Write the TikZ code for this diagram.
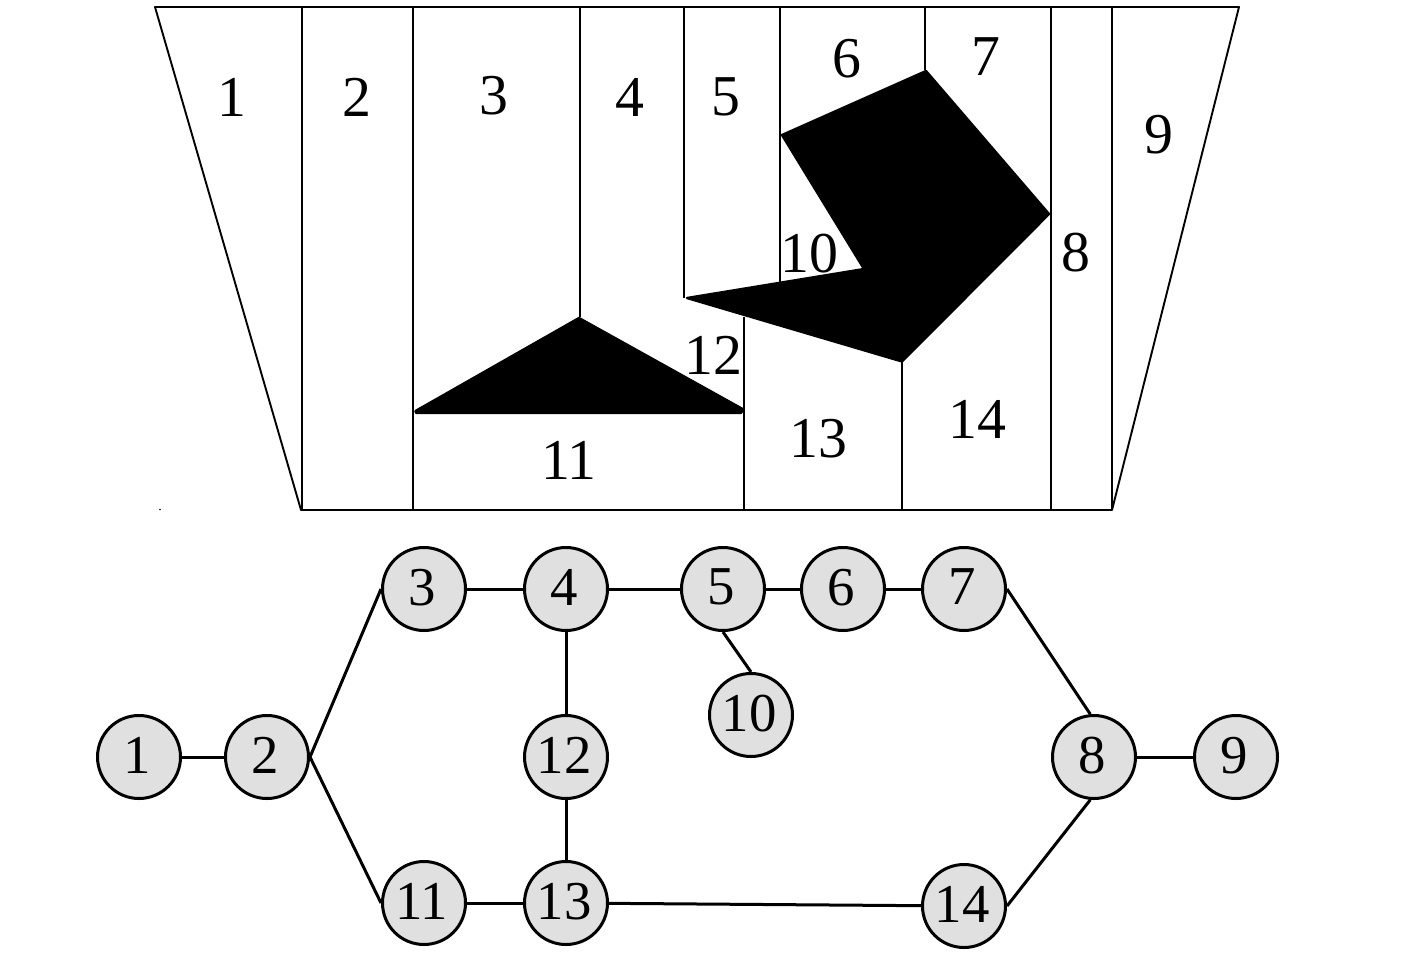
\documentclass[tikz,border=0pt]{standalone}
\usepackage{fontspec}
\setmainfont{Liberation Serif}
\newcommand{\digs}[1]{\raisebox{4bp}{\hspace*{-4bp}#1}}
\begin{document}
\begin{tikzpicture}[x=1bp,y=-1bp,
  vert/.style={circle,draw=black,line width=3bp,fill=black!12,minimum size=83bp,inner sep=0pt,font=\fontsize{55}{55}\selectfont},
  edge/.style={line width=3bp},
  wall/.style={line width=1.9bp},
  solid block/.style={fill=black,draw=black,line width=2.4bp,line join=round},
  lab/.style={inner sep=0pt,font=\fontsize{58}{58}\selectfont}]
\useasboundingbox (0,0) rectangle (1417,952);
% trapezoid
\draw[wall,line join=round] (155,7) -- (1239,7) -- (1112,510) -- (301,510) -- cycle;
\draw[wall] (302,7) -- (302,510);
\draw[wall] (413,7) -- (413,510);
\draw[wall] (580,7) -- (580,317);
\draw[wall] (684,7) -- (684,298);
\draw[wall] (780,7) -- (780,285);
\draw[wall] (925,7) -- (925,70);
\draw[wall] (1051,7) -- (1051,510);
\draw[wall] (1112,7) -- (1112,510);
\draw[wall] (744,317) -- (744,510);
\draw[wall] (902,362) -- (902,511);
% obstacles
\fill[black] (160,509.5) circle (0.8);
\draw[solid block] (415.5,411) -- (579,318) -- (743.5,409.5) -- (741,412.8) -- (416,412.8) -- cycle;
\draw[solid block] (782,135) -- (926,71) -- (1049,214) -- (902,361.5) -- (687,298) -- (864,269) -- cycle;
% labels
\node[lab] (r1) at (232,97) {1};
\node[lab] (r2) at (357,97) {2};
\node[lab] (r3) at (494,96) {3};
\node[lab] (r4) at (630,97) {4};
\node[lab] (r5) at (726,97) {5};
\node[lab] (r6) at (847,59) {6};
\node[lab] (r7) at (986,57) {7};
\node[lab] (r8) at (1076,253) {8};
\node[lab] (r9) at (1159,135) {9};
\node[lab] (r10) at (809,254) {10};
\node[lab] (r11) at (569,460) {11};
\node[lab] (r12) at (713,355) {12};
\node[lab] (r13) at (818,439) {13};
\node[lab] (r14) at (977,419) {14};
% graph
\node[vert] (1) at (139,757) {\digs{1}};
\node[vert] (2) at (267,757) {\digs{2}};
\node[vert] (3) at (424,589) {\digs{3}};
\node[vert] (4) at (566,589) {\digs{4}};
\node[vert] (5) at (723,589) {\digs{5}};
\node[vert] (6) at (843,589) {\digs{6}};
\node[vert] (7) at (964,589) {\digs{7}};
\node[vert] (8) at (1094,757) {\digs{8}};
\node[vert] (9) at (1236,757) {\digs{9}};
\node[vert] (10) at (751,715) {\digs{10}};
\node[vert] (11) at (424,903) {\digs{11}};
\node[vert] (12) at (566,757) {\digs{12}};
\node[vert] (13) at (566,903) {\digs{13}};
\node[vert] (14) at (964,906) {\digs{14}};
\draw[edge] (1)--(2);
\draw[edge] (2.east)--(3.west);
\draw[edge] (2.east)--(11.west);
\draw[edge] (3)--(4);
\draw[edge] (4)--(5);
\draw[edge] (5)--(6);
\draw[edge] (6)--(7);
\draw[edge] (5.south)--(10.north);
\draw[edge] (4)--(12);
\draw[edge] (12)--(13);
\draw[edge] (11)--(13);
\draw[edge] (13)--(14);
\draw[edge] (7.east)--(8.95);
\draw[edge] (14.east)--(8.265);
\draw[edge] (8)--(9);
\end{tikzpicture}
\end{document}
